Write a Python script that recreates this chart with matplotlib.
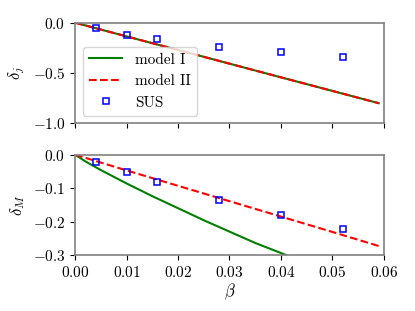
import matplotlib
matplotlib.use("Agg")
from matplotlib import pyplot as plt
from matplotlib.ticker import FuncFormatter

plt.rcParams['mathtext.fontset'] = 'cm'
plt.rcParams['font.family'] = 'serif'
plt.rcParams['font.serif'] = ['cmr10', 'DejaVu Serif']
plt.rcParams['axes.formatter.use_mathtext'] = True
plt.rcParams['font.size'] = 10

# SUS data points
beta_sus = [0.004, 0.010, 0.016, 0.028, 0.040, 0.052]
dj_sus = [-0.056, -0.12, -0.165, -0.238, -0.294, -0.338]
dm_sus = [-0.022, -0.053, -0.082, -0.135, -0.180, -0.221]

# model curves
beta_j = [0.0, 0.01, 0.02, 0.03, 0.04, 0.05, 0.059]
dj_model1 = [0.0, -0.136, -0.271, -0.407, -0.543, -0.678, -0.80]
dj_model2 = [0.0, -0.136, -0.271, -0.407, -0.543, -0.678, -0.80]

beta_m1 = [0.0, 0.002, 0.005, 0.01, 0.015, 0.02, 0.025, 0.03, 0.035, 0.041, 0.045]
dm_model1 = [0.0, -0.02, -0.046, -0.086, -0.124, -0.16, -0.196, -0.23, -0.264, -0.30, -0.325]
beta_m2 = [0.0, 0.01, 0.02, 0.03, 0.04, 0.05, 0.059]
dm_model2 = [0.0, -0.047, -0.093, -0.139, -0.185, -0.231, -0.273]

fmt2 = FuncFormatter(lambda v, p: '$%.2f$' % v)
fmt1 = FuncFormatter(lambda v, p: '$%.1f$' % v)

fig = plt.figure(figsize=(4.15, 3.11), dpi=100)
ax1 = fig.add_axes([0.181, 0.6035, 0.744, 0.3235])
ax2 = fig.add_axes([0.181, 0.18, 0.744, 0.3226])

ax1.plot(beta_j, dj_model1, color='green', lw=1.5, label='model I')
ax1.plot(beta_j, dj_model2, color='red', lw=1.5, ls='--', label='model II')
ax1.plot(beta_sus, dj_sus, 's', mfc='none', mec='blue', ms=5, mew=1.1, label='SUS')
ax1.set_xlim(0, 0.06)
ax1.set_ylim(-1.0, 0.0)
ax1.set_yticks([-1.0, -0.5, 0.0])
ax1.yaxis.set_major_formatter(fmt1)
ax1.set_xticks([0, 0.01, 0.02, 0.03, 0.04, 0.05, 0.06])
ax1.set_xticklabels([])
ax1.set_ylabel(r'$\delta_j$', fontsize=12)
ax1.legend(loc='lower left', fontsize=11, handlelength=2.2)

ax2.plot(beta_m1, dm_model1, color='green', lw=1.5)
ax2.plot(beta_m2, dm_model2, color='red', lw=1.5, ls='--')
ax2.plot(beta_sus, dm_sus, 's', mfc='none', mec='blue', ms=5, mew=1.1)
ax2.set_xlim(0, 0.06)
ax2.set_ylim(-0.3, 0.0)
ax2.set_yticks([-0.3, -0.2, -0.1, 0.0])
ax2.yaxis.set_major_formatter(fmt1)
ax2.set_xticks([0, 0.01, 0.02, 0.03, 0.04, 0.05, 0.06])
ax2.xaxis.set_major_formatter(fmt2)
ax2.set_xlabel(r'$\beta$', fontsize=12, labelpad=1)
ax2.set_ylabel(r'$\delta_M$', fontsize=12)

for ax in (ax1, ax2):
    for s in ax.spines.values():
        s.set_color('#808080')
        s.set_linewidth(1.2)
    ax.tick_params(labelsize=11)

fig.savefig('out.png', dpi=100)
